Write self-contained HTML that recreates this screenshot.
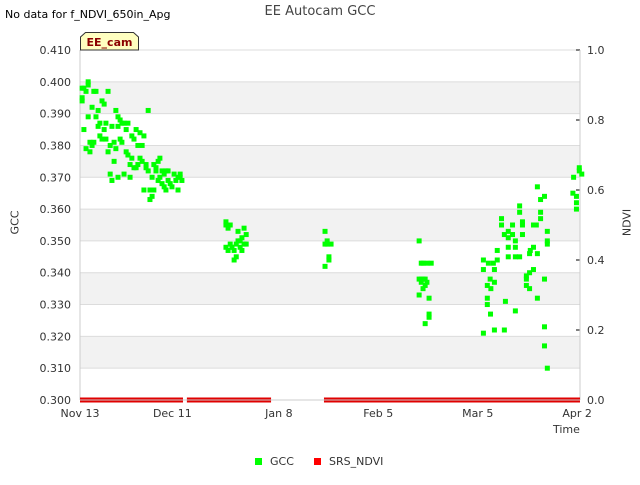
<!DOCTYPE html>
<html><head><meta charset="utf-8"><style>
body{margin:0;background:#fff;font-family:"Liberation Sans","DejaVu Sans",sans-serif}
svg text{font-family:"DejaVu Sans","Liberation Sans",sans-serif}
</style></head><body>
<svg id="chart" width="640" height="480" xmlns="http://www.w3.org/2000/svg"></svg>
<script>
const xTickLabels=["Nov 13","Dec 11","Jan 8","Feb 5","Mar 5","Apr 2"];
const xTickDays=[0,26,56,84,112,140];
const yTicks=[0.300,0.310,0.320,0.330,0.340,0.350,0.360,0.370,0.380,0.390,0.400,0.410];
const y2Ticks=[0.0,0.2,0.4,0.6,0.8,1.0];
const gccDays=[0.6,0.6,0.6,1.1,1.1,1.7,1.7,2.3,2.3,2.3,2.8,2.8,3.4,3.4,3.9,3.9,4.5,4.5,5.1,5.1,5.6,5.6,6.2,6.2,6.8,6.8,7.3,7.3,7.9,7.9,8.5,8.5,9.0,9.0,9.6,9.6,10.1,10.1,10.7,10.7,10.7,11.3,11.3,11.8,11.8,12.4,12.4,13.0,13.0,13.5,13.5,14.1,14.1,14.6,14.6,15.2,15.2,15.8,15.8,16.3,16.3,16.9,16.9,17.5,17.5,18.0,18.0,18.6,18.6,19.2,19.2,19.7,19.7,20.3,20.3,20.8,20.8,21.4,21.4,22.0,22.0,22.5,22.5,23.1,23.1,23.7,23.7,24.2,24.2,24.8,24.8,25.4,25.9,26.5,27.0,27.6,27.6,28.2,28.2,28.7,
41.1,41.1,41.1,41.7,41.7,42.3,42.3,42.8,42.8,43.4,43.4,44.0,44.0,44.5,44.5,45.1,45.1,45.6,45.6,46.2,46.2,46.8,46.8,
69.0,69.0,69.0,69.6,69.6,70.1,70.1,70.7,
95.5,95.5,95.5,96.1,96.1,96.1,96.6,96.6,96.6,97.2,97.2,97.2,97.7,97.7,98.3,98.3,98.3,98.9,
113.6,113.6,115.0,116.4,116.7,117.5,117.5,115.5,114.7,115.7,116.7,114.7,114.7,115.6,113.6,116.7,119.5,119.8,122.6,118.7,118.7,119.5,120.6,120.6,121.8,121.8,120.6,120.6,122.6,122.6,122.6,123.8,123.8,123.8,124.6,124.6,124.6,125.7,125.7,125.7,126.6,126.6,126.6,126.8,127.7,127.7,128.5,128.8,127.7,128.8,128.8,129.7,129.7,129.7,130.8,131.6,131.6,131.6,130.8,130.8,130.8,131.6,139.0,138.8,139.8,139.8,139.8,140.6,140.6,141.3];
const gccValues=[.398,.395,.394,.398,.385,.379,.397,.400,.399,.389,.378,.381,.392,.380,.397,.381,.389,.397,.386,.391,.387,.383,.394,.382,.393,.385,.387,.382,.378,.397,.380,.371,.369,.386,.381,.375,.379,.391,.389,.370,.386,.388,.382,.381,.387,.387,.371,.385,.378,.387,.377,.374,.370,.383,.376,.382,.373,.385,.373,.374,.380,.376,.384,.375,.380,.366,.383,.374,.373,.372,.391,.366,.363,.370,.364,.374,.366,.372,.373,.375,.369,.376,.370,.368,.372,.371,.367,.372,.366,.369,.372,.368,.367,.371,.369,.366,.370,.370,.371,.369,
.356,.355,.348,.354,.347,.355,.349,.348,.348,.344,.347,.345,.349,.353,.350,.348,.350,.347,.351,.354,.349,.352,.349,
.353,.349,.342,.350,.349,.345,.344,.349,
.350,.338,.333,.338,.343,.337,.338,.335,.343,.338,.324,.336,.343,.337,.332,.327,.326,.343,
.344,.341,.343,.343,.341,.347,.344,.338,.336,.335,.337,.332,.330,.327,.321,.322,.322,.331,.328,.357,.355,.352,.353,.351,.355,.352,.348,.345,.350,.348,.345,.361,.359,.345,.356,.355,.352,.339,.338,.336,.340,.335,.346,.347,.348,.355,.355,.346,.341,.332,.367,.363,.359,.357,.364,.353,.350,.349,.338,.323,.317,.310,.370,.365,.364,.362,.360,.373,.372,.371];
const ndviSegStart=[0,30.1,68.7];
const ndviSegEnd=[29,53.8,140.8];
const ndviValue=[0,0,0];

const NS="http://www.w3.org/2000/svg";
const svg=document.getElementById('chart');
const L=80,R=580,T=50,B=400;
const xS=d=>L+d/140.8*(R-L);
const yS=v=>B-(v-0.300)/0.110*(B-T);
const y2S=v=>B-v*(B-T);
function mk(tag,at,parent){const e=document.createElementNS(NS,tag);for(const k in at)e.setAttribute(k,at[k]);(parent||svg).appendChild(e);return e;}

const plotBg=mk('rect',{x:L,y:T,width:R-L,height:B-T,fill:'#fff'});


for(let i=0;i<yTicks.length-1;i++){
  if(i%2===1){const b=mk('rect',{x:L,y:yS(yTicks[i+1]),width:R-L,height:yS(yTicks[i])-yS(yTicks[i+1]),fill:'#f2f2f2'});
  
  }
}
yTicks.forEach(v=>{
  const g=mk('line',{x1:L,x2:R,y1:yS(v),y2:yS(v),stroke:'#dcdcdc','stroke-width':1});
  
  
  const t=mk('text',{x:71,y:yS(v)+4,'text-anchor':'end','font-size':11,fill:'#333'});t.textContent=v.toFixed(3);
  
  
});
y2Ticks.forEach(v=>{
  const tk=mk('line',{x1:R-4,x2:R,y1:y2S(v),y2:y2S(v),stroke:'#000','stroke-width':1});
  
  
  const t=mk('text',{x:587,y:y2S(v)+4,'font-size':11,fill:'#333'});t.textContent=v.toFixed(1);
  
  
});
mk('line',{x1:L,x2:L,y1:T,y2:B,stroke:'#ccc'});
mk('line',{x1:R,x2:R,y1:T,y2:B,stroke:'#ccc'});
mk('line',{x1:L,x2:R,y1:B,y2:B,stroke:'#ccc'});
xTickDays.forEach((d,i)=>{
  const t=mk('text',{x:xS(d),y:417,'text-anchor':'middle','font-size':11,fill:'#333'});t.textContent=xTickLabels[i];
  
  
});
ndviSegStart.forEach((s,i)=>{
  [-1.5,1.5].forEach(o=>{
    const l=mk('line',{x1:xS(s),x2:xS(ndviSegEnd[i]),y1:y2S(ndviValue[i])+o,y2:y2S(ndviValue[i])+o,stroke:'#e00000','stroke-width':2});
    
    
  });
});
gccDays.forEach((d,i)=>{
  const p=mk('rect',{x:xS(d)-2.5,y:yS(gccValues[i])-2.5,width:5,height:5,fill:'#00ff00'});
  
  
});
const badge=mk('path',{d:'M80.5,50 L80.5,37 L85.5,32.5 L133.5,32.5 L138.5,37 L138.5,50 Z',fill:'#ffffc0',stroke:'#333','stroke-width':1});


const bt=mk('text',{x:109.5,y:46,'text-anchor':'middle','font-size':11,'font-weight':'bold',fill:'#8b0000'});bt.textContent='EE_cam';


</script>
<div style="position:absolute;left:0;top:0;width:640px;height:480px;pointer-events:none">
<div style="position:absolute;left:5px;top:8px;font-size:11px;color:#000;font-family:'DejaVu Sans',sans-serif">No data for f_NDVI_650in_Apg</div>
<div style="position:absolute;left:0;width:640px;top:4px;text-align:center;font-size:13px;color:#444;font-family:'DejaVu Sans',sans-serif">EE Autocam GCC</div>
<div style="position:absolute;left:-5px;top:216px;width:40px;text-align:center;transform:rotate(-90deg);font-size:11px;color:#333;font-family:'DejaVu Sans',sans-serif">GCC</div>
<div style="position:absolute;left:607px;top:216px;width:40px;text-align:center;transform:rotate(-90deg);font-size:11px;color:#333;font-family:'DejaVu Sans',sans-serif">NDVI</div>
<div style="position:absolute;left:553px;top:423px;font-size:11px;color:#333;font-family:'DejaVu Sans',sans-serif">Time</div>
<div style="position:absolute;left:255px;top:455px;font-size:11px;color:#333;font-family:'DejaVu Sans',sans-serif"><span style="display:inline-block;width:7px;height:7px;background:#00ff00;margin-right:8px"></span>GCC</div>
<div style="position:absolute;left:314px;top:455px;font-size:11px;color:#333;font-family:'DejaVu Sans',sans-serif"><span style="display:inline-block;width:7px;height:7px;background:#ff0000;margin-right:8px"></span>SRS_NDVI</div>
</div>
</body></html>
